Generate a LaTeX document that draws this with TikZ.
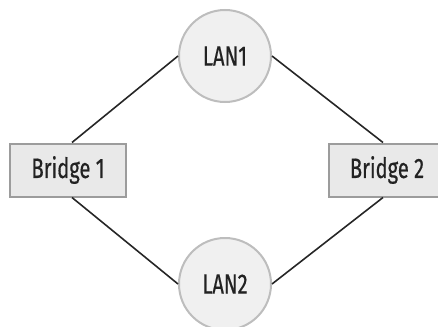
\documentclass[tikz,border=0pt]{standalone}
\usepackage{fontspec}
\setmainfont{Fira Sans}
\newfontfamily\lblfont{Fira Sans}[FakeBold=0.6]
\usepackage{graphicx}
\definecolor{linegray}{HTML}{262626}
\definecolor{lanfill}{HTML}{F0F0F0}
\definecolor{lanborder}{HTML}{BDBDBD}
\definecolor{boxfill}{HTML}{E9E9E9}
\definecolor{boxborder}{HTML}{9C9C9C}
\definecolor{txt}{HTML}{222222}
\newcommand{\cond}[1]{\scalebox{0.72}[1]{#1}}
\begin{document}
\begin{tikzpicture}[x=1pt,y=-1pt,
  lanstyle/.style={circle, draw=lanborder, fill=lanfill, line width=2pt,
    minimum size=92pt, inner sep=0pt, text=txt, font=\lblfont\fontsize{28}{32}\selectfont},
  bridgestyle/.style={rectangle, draw=boxborder, fill=boxfill, line width=2pt,
    minimum width=116pt, minimum height=53pt, inner sep=0pt, text=txt,
    font=\lblfont\fontsize{28}{32}\selectfont},
  link/.style={draw=linegray, line width=1.6pt}]
\useasboundingbox (0,0) rectangle (438,326);
\begin{scope}
\clip (0,0) rectangle (438,326);
\node[lanstyle] (lan1) at (225,56) {\cond{LAN1}};
\node[lanstyle] (lan2) at (225,284) {\cond{LAN2}};
\node[bridgestyle] (b1) at (68,170) {\cond{Bridge 1}};
\node[bridgestyle] (b2) at (387,170) {\cond{Bridge 2}};
\end{scope}
\draw[link] ([xshift=4pt]b1.north) -- (lan1.west);
\draw[link] ([xshift=-4pt]b2.north) -- (lan1.east);
\draw[link] ([xshift=4pt]b1.south) -- (lan2.west);
\draw[link] ([xshift=-4pt]b2.south) -- (lan2.east);
\end{tikzpicture}
\end{document}
